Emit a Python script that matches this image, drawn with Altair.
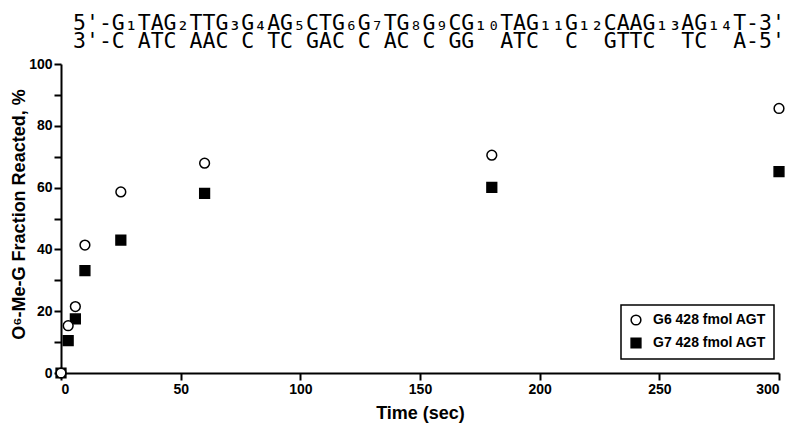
import altair as alt
import pandas as pd

# Data
time_sec = [0, 3, 6, 10, 25, 60, 180, 300]
g6_values = [0.0, 15.3, 21.5, 41.4, 58.6, 67.9, 70.5, 85.6]
g7_values = [0.0, 10.5, 17.5, 33.1, 43.0, 58.1, 60.1, 65.2]
series_names = ["G6 428 fmol AGT", "G7 428 fmol AGT"]

x_ticks = [0, 50, 100, 150, 200, 250, 300]
y_ticks = [0, 10, 20, 30, 40, 50, 60, 70, 80, 90, 100]

NB = "\u00a0"
title_line1 = "5'-G\u2081TAG\u2082TTG\u2083G\u2084AG\u2085CTG\u2086G\u2087TG\u2088G\u2089CG\u2081\u2080TAG\u2081\u2081G\u2081\u2082CAAG\u2081\u2083AG\u2081\u2084T-3'"
title_line2 = ("3'-C" + NB + "ATC" + NB + "AAC" + NB + "C" + NB + "TC" + NB + "GAC" + NB + "C" + NB
               + "AC" + NB + "C" + NB + "GG" + NB * 2 + "ATC" + NB * 2 + "C" + NB * 2 + "GTTC" + NB * 2
               + "TC" + NB * 2 + "A-5'")

# draw G7 first so open circles sit on top
df = pd.DataFrame({
    "time": time_sec + time_sec,
    "value": g7_values + g6_values,
    "series": [series_names[1]] * len(time_sec) + [series_names[0]] * len(time_sec),
})

legend_cfg = alt.Legend(title=None, symbolStrokeColor="black", symbolStrokeWidth=1.5)

points = alt.Chart(df).mark_point(filled=True, strokeWidth=1.5, opacity=1, size=95).encode(
    x=alt.X("time:Q", scale=alt.Scale(domain=[0, 300], nice=False),
            axis=alt.Axis(values=x_ticks, title="Time (sec)")),
    y=alt.Y("value:Q", scale=alt.Scale(domain=[0, 100], nice=False),
            axis=alt.Axis(values=y_ticks, title="O\u2076-Me-G Fraction Reacted, %",
                          labelExpr="datum.value % 20 == 0 ? datum.label : ''",
                          titleX=-33, titleY=150, titleAngle=-90, titleAlign="center",
                          titleBaseline="bottom")),
    shape=alt.Shape("series:N", scale=alt.Scale(domain=series_names, range=["circle", "square"]), legend=legend_cfg),
    fill=alt.Fill("series:N", scale=alt.Scale(domain=series_names, range=["white", "black"]), legend=legend_cfg),
    stroke=alt.Stroke("series:N", scale=alt.Scale(domain=series_names, range=["black", "black"]), legend=legend_cfg),
)

chart = points.properties(
    width=718,
    height=309,
    autosize=alt.AutoSizeParams(type="none"),
    padding={"left": 53, "top": 56, "right": 13, "bottom": 51},
    title=alt.TitleParams(
        text=[title_line1, title_line2],
        anchor="start",
        frame="group",
        align="left",
        baseline="bottom",
        dx=12,
        dy=21,
        offset=4,
        font="DejaVu Sans Mono",
        fontSize=21.5,
        fontWeight="normal",
        lineHeight=17.5,
        color="black",
    ),
).configure_view(stroke=None).configure_axis(
    domainColor="black",
    domainWidth=2,
    tickColor="black",
    tickWidth=2,
    tickSize=7,
    grid=False,
    labelFont="Liberation Sans",
    labelFontWeight="bold",
    labelFontSize=14,
    labelColor="black",
    labelPadding=2,
    titleFont="Liberation Sans",
    titleFontWeight="bold",
    titleFontSize=18,
    titleColor="black",
).configure_axisX(
    titlePadding=8,
).configure_legend(
    orient="none",
    legendX=560,
    legendY=241,
    padding=8,
    strokeColor="black",
    strokeWidth=1.5,
    fillColor="white",
    labelFont="Liberation Sans",
    labelFontWeight="bold",
    labelFontSize=14,
    labelColor="black",
    symbolSize=95,
    symbolStrokeColor="black",
    symbolStrokeWidth=1.5,
    rowPadding=7,
    labelOffset=10,
)

chart.save("out.html", embed_options={"renderer": "svg", "actions": False})
